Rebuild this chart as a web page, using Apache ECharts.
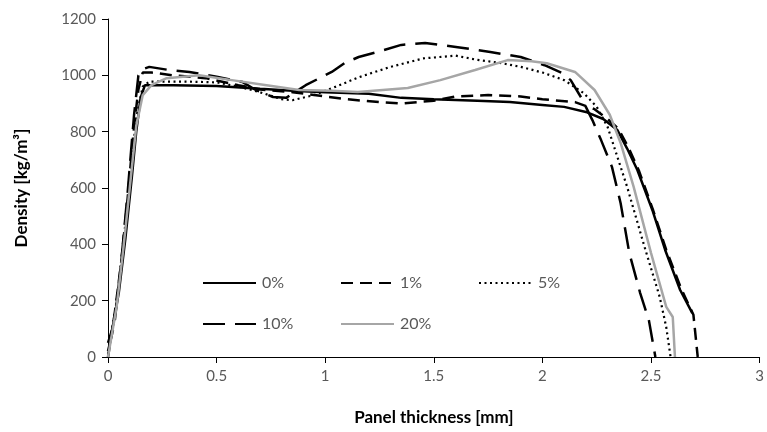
<!DOCTYPE html>
<html>
<head>
<meta charset="utf-8">
<script src="https://cdn.jsdelivr.net/npm/echarts@6/dist/echarts.min.js"></script>
<style>
  html, body { margin: 0; padding: 0; background: #fff; }
  #chart { width: 767px; height: 432px; }
</style>
</head>
<body>
<div id="chart"></div>
<script>
// density profiles: [thickness mm, density kg/m3]
const names = ['0%', '1%', '5%', '10%', '20%']

const p0 = [[0, 50], [0.02, 100], [0.05, 230], [0.08, 420], [0.11, 640], [0.13, 800], [0.15, 920], [0.17, 965],
  [0.3, 965], [0.5, 962], [0.7, 952], [0.85, 945], [1.0, 940], [1.2, 935], [1.35, 920], [1.5, 915], [1.7, 910],
  [1.85, 905], [2.0, 895], [2.1, 888], [2.2, 870], [2.28, 845], [2.345, 806], [2.39, 740], [2.437, 664],
  [2.506, 522], [2.565, 380], [2.634, 238], [2.69, 156]]

const p1 = [[0, 0], [0.03, 150], [0.06, 330], [0.09, 560], [0.12, 820], [0.14, 950], [0.16, 1010], [0.2, 1010],
  [0.3, 1000], [0.45, 990], [0.6, 965], [0.7, 950], [0.85, 940], [1.0, 925], [1.1, 915], [1.25, 905], [1.35, 900],
  [1.5, 910], [1.6, 925], [1.75, 930], [1.9, 925], [2.0, 915], [2.15, 905], [2.24, 880], [2.3, 845], [2.35, 810],
  [2.395, 745], [2.445, 660], [2.51, 520], [2.57, 380], [2.64, 240], [2.695, 150], [2.715, 0]]

const p5 = [[0, 10], [0.04, 200], [0.07, 400], [0.1, 620], [0.13, 850], [0.16, 960], [0.19, 978], [0.35, 978],
  [0.5, 975], [0.6, 960], [0.7, 940], [0.8, 915], [0.85, 912], [0.95, 930], [1.05, 960], [1.15, 992], [1.3, 1030],
  [1.45, 1060], [1.6, 1070], [1.7, 1055], [1.8, 1045], [1.9, 1030], [2.0, 1010], [2.1, 983], [2.19, 937],
  [2.25, 888], [2.3, 817], [2.39, 604], [2.47, 391], [2.54, 213], [2.57, 106], [2.59, 0]]

const p10 = [[0, 20], [0.03, 120], [0.06, 330], [0.09, 580], [0.12, 860], [0.14, 1000], [0.16, 1022], [0.19, 1030],
  [0.28, 1019], [0.375, 1012], [0.5, 995], [0.62, 976], [0.68, 948], [0.76, 923], [0.82, 920], [0.91, 965],
  [1.03, 1012], [1.09, 1044], [1.154, 1065], [1.25, 1085], [1.35, 1108], [1.46, 1115], [1.61, 1100], [1.76, 1083],
  [1.9, 1065], [2.01, 1036], [2.09, 1008], [2.13, 983], [2.18, 919], [2.23, 841], [2.27, 770], [2.32, 675],
  [2.36, 546], [2.40, 369], [2.45, 227], [2.49, 131], [2.52, 0]]

const p20 = [[0, 0], [0.04, 180], [0.07, 380], [0.1, 600], [0.13, 820], [0.16, 930], [0.2, 965], [0.27, 990],
  [0.42, 1000], [0.57, 983], [0.73, 965], [0.88, 948], [1.03, 945], [1.15, 941], [1.38, 955], [1.53, 983],
  [1.69, 1019], [1.84, 1054], [1.95, 1050], [2.02, 1043], [2.15, 1012], [2.24, 948], [2.31, 860], [2.36, 760],
  [2.42, 604], [2.50, 369], [2.57, 178], [2.60, 142], [2.61, 0]]

const xTicks = [0, 0.5, 1, 1.5, 2, 2.5, 3]
const yTicks = [0, 200, 400, 600, 800, 1000, 1200]

const font = 'Lato, "Open Sans", sans-serif'
const labelGray = '#595959'

function line(name, data, color, width, dash) {
  return {
    name: name,
    type: 'line',
    data: data,
    symbol: 'none',
    showSymbol: false,
    animation: false,
    lineStyle: { color: color, width: width, type: dash, cap: 'butt' },
    itemStyle: { color: color }
  }
}

function legendAt(name, left, top) {
  return {
    data: [name],
    left: left,
    top: top,
    itemWidth: 53,
    itemHeight: 12,
    itemGap: 0,
    selectedMode: false,
    itemStyle: { opacity: 0 },
    textStyle: { color: labelGray, fontSize: 16, fontFamily: font, padding: [0, 0, 0, 1] }
  }
}

const chart = echarts.init(document.getElementById('chart'))
chart.setOption({
  backgroundColor: '#fff',
  animation: false,
  grid: { left: 108, right: 4, top: 19, bottom: 75 },
  legend: [
    legendAt(names[0], 197, 270),
    legendAt(names[1], 335, 270),
    legendAt(names[2], 473, 270),
    legendAt(names[3], 197, 311),
    legendAt(names[4], 335, 311)
  ],
  xAxis: {
    type: 'value',
    min: xTicks[0],
    max: xTicks[xTicks.length - 1],
    interval: 0.5,
    name: 'Panel thickness [mm]',
    nameLocation: 'middle',
    nameGap: 52,
    nameTextStyle: { color: '#000', fontSize: 17, fontWeight: 'bold', fontFamily: font },
    axisLine: { show: true, lineStyle: { color: '#000', width: 1 } },
    axisTick: { show: true, length: 6, lineStyle: { color: '#000' } },
    axisLabel: { color: labelGray, fontSize: 15, fontFamily: font, margin: 12, formatter: v => String(v) },
    splitLine: { show: false }
  },
  yAxis: {
    type: 'value',
    min: yTicks[0],
    max: yTicks[yTicks.length - 1],
    interval: 200,
    name: 'Density [kg/m³]',
    nameLocation: 'middle',
    nameGap: 78,
    nameTextStyle: { color: '#000', fontSize: 17, fontWeight: 'bold', fontFamily: font },
    axisLine: { show: true, lineStyle: { color: '#000', width: 1 } },
    axisTick: { show: true, length: 6, lineStyle: { color: '#000' } },
    axisLabel: { color: labelGray, fontSize: 15, fontFamily: font, margin: 12, formatter: v => String(v) },
    splitLine: { show: false }
  },
  series: [
    line(names[0], p0, '#000', 2.5, 'solid'),
    line(names[1], p1, '#000', 2.5, [12, 7]),
    line(names[2], p5, '#000', 2.2, [2, 3.5]),
    line(names[3], p10, '#000', 2.5, [22, 10]),
    line(names[4], p20, '#a6a6a6', 2.5, 'solid')
  ]
})
</script>
</body>
</html>
